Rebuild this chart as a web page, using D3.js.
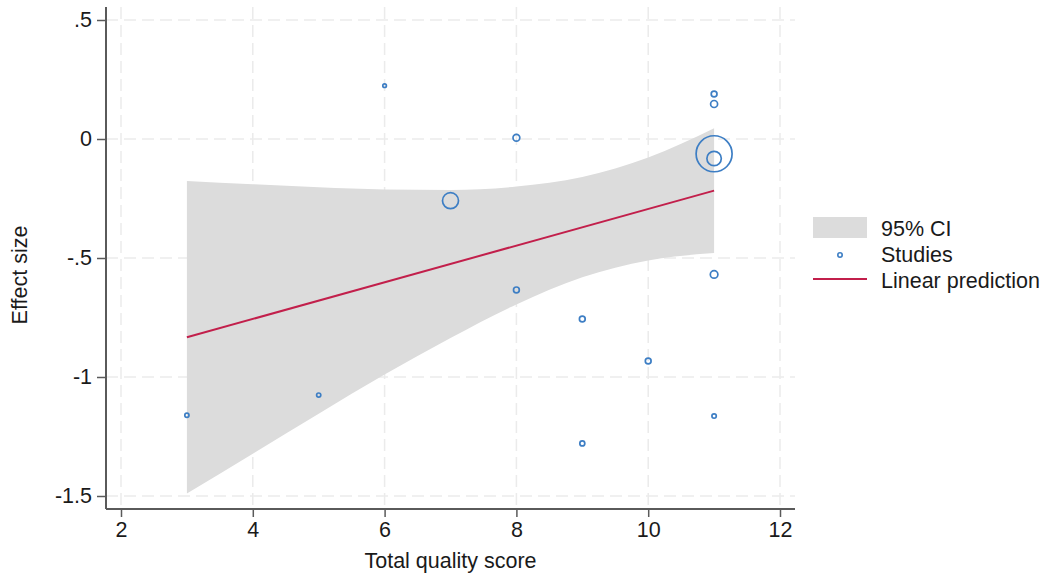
<!DOCTYPE html>
<html>
<head>
<meta charset="utf-8">
<script src="https://cdn.jsdelivr.net/npm/d3@7"></script>
<style>
  html, body { margin: 0; padding: 0; background: #ffffff; }
  svg { display: block; font-family: "Liberation Sans", Arial, Helvetica, sans-serif; }
</style>
</head>
<body>
<svg id="chart" width="1056" height="576"></svg>
<script>
// ---- data ----
const studyScore  = [3, 5, 6, 7, 8, 8, 9, 9, 10, 11, 11, 11, 11, 11, 11];
const studyEffect = [-1.161, -1.076, 0.224, -0.259, 0.005, -0.634, -0.756, -1.279, -0.933, 0.189, 0.147, -0.062, -0.082, -0.569, -1.164];
const studyWeight = [2.1, 2.1, 1.8, 8.0, 3.4, 2.9, 2.9, 2.5, 2.9, 2.9, 3.5, 18.0, 7.2, 3.8, 2.2];

const ciScore = [3, 4, 5, 6, 7, 8, 9, 10, 11];
const ciUpper = [-0.176, -0.190, -0.203, -0.212, -0.214, -0.200, -0.160, -0.078, 0.045];
const ciLower = [-1.489, -1.322, -1.154, -0.990, -0.836, -0.695, -0.581, -0.510, -0.479];

const fitScore  = [3, 11];
const fitEffect = [-0.833, -0.217];

const xTicks = [2, 4, 6, 8, 10, 12];
const yTicks = [0.5, 0, -0.5, -1, -1.5];
const yTickLabels = [".5", "0", "-.5", "-1", "-1.5"];

const legendLabels = ["95% CI", "Studies", "Linear prediction"];

// ---- layout ----
const svg = d3.select("#chart");
const plotLeft = 106, plotRight = 795, plotTop = 7, plotBottom = 509;
const fs = 21.5;

const x = d3.scaleLinear().domain([2, 12]).range([121, 780]);
const y = d3.scaleLinear().domain([0.5, -1.5]).range([20, 496]);
const r = d3.scaleLinear().domain([0, 1]).range([0, 1]);

const colBlue = "#3d7ec4";
const colRed = "#c21f4b";
const colBand = "#dcdcdc";
const colAxis = "#5a5a5a";
const colGrid = "#ebebeb";
const colText = "#1a1a1a";

// grid
const grid = svg.append("g");
grid.selectAll("line.gx").data(xTicks).join("line")
  .attr("x1", d => x(d)).attr("x2", d => x(d))
  .attr("y1", plotTop).attr("y2", plotBottom)
  .attr("stroke", colGrid).attr("stroke-width", 1.5).attr("stroke-dasharray", "12,6");
grid.selectAll("line.gy").data(yTicks).join("line")
  .attr("x1", plotLeft).attr("x2", plotRight)
  .attr("y1", d => y(d)).attr("y2", d => y(d))
  .attr("stroke", colGrid).attr("stroke-width", 1.5).attr("stroke-dasharray", "12,6");

// CI band
const band = d3.area()
  .x((d, i) => x(ciScore[i]))
  .y0((d, i) => y(ciLower[i]))
  .y1((d, i) => y(ciUpper[i]))
  .curve(d3.curveMonotoneX);
svg.append("path").datum(ciScore).attr("d", band).attr("fill", colBand);

// studies
svg.append("g").selectAll("circle").data(studyScore).join("circle")
  .attr("cx", (d, i) => x(studyScore[i]))
  .attr("cy", (d, i) => y(studyEffect[i]))
  .attr("r", (d, i) => r(studyWeight[i]))
  .attr("fill", "none").attr("stroke", colBlue).attr("stroke-width", 1.7);

// linear prediction
const line = d3.line().x((d, i) => x(fitScore[i])).y((d, i) => y(fitEffect[i]));
svg.append("path").datum(fitScore).attr("d", line)
  .attr("fill", "none").attr("stroke", colRed).attr("stroke-width", 2);

// axes
const xAxis = d3.axisBottom(x).tickValues(xTicks).tickSize(8).tickPadding(5).tickFormat(d3.format("d"));
const gx = svg.append("g").attr("transform", `translate(0,${plotBottom})`).call(xAxis);
gx.select(".domain").remove();
gx.selectAll("line").attr("stroke", colAxis).attr("stroke-width", 1.5);
gx.selectAll("text").attr("font-size", fs).attr("fill", colText).attr("font-family", null);

const yAxis = d3.axisLeft(y).tickValues(yTicks).tickSize(9).tickPadding(5)
  .tickFormat((d, i) => yTickLabels[i]);
const gy = svg.append("g").attr("transform", `translate(${plotLeft},0)`).call(yAxis);
gy.select(".domain").remove();
gy.selectAll("line").attr("stroke", colAxis).attr("stroke-width", 1.5);
gy.selectAll("text").attr("font-size", fs).attr("fill", colText).attr("font-family", null);

svg.append("line").attr("x1", plotLeft).attr("x2", plotRight).attr("y1", plotBottom).attr("y2", plotBottom)
  .attr("stroke", colAxis).attr("stroke-width", 2);
svg.append("line").attr("x1", plotLeft).attr("x2", plotLeft).attr("y1", plotTop).attr("y2", plotBottom)
  .attr("stroke", colAxis).attr("stroke-width", 2);

// axis titles
svg.append("text").attr("x", (plotLeft + plotRight) / 2).attr("y", 568)
  .attr("text-anchor", "middle").attr("font-size", fs).attr("fill", colText)
  .text("Total quality score");
svg.append("text").attr("transform", "translate(27,275) rotate(-90)")
  .attr("text-anchor", "middle").attr("font-size", fs).attr("fill", colText)
  .text("Effect size");

// legend
const lg = svg.append("g");
lg.append("rect").attr("x", 813).attr("y", 217).attr("width", 54).attr("height", 21).attr("fill", colBand);
lg.append("circle").attr("cx", 840).attr("cy", 255).attr("r", 2.2)
  .attr("fill", "none").attr("stroke", colBlue).attr("stroke-width", 1.6);
lg.append("line").attr("x1", 813).attr("x2", 867).attr("y1", 279).attr("y2", 279)
  .attr("stroke", colRed).attr("stroke-width", 2);
lg.selectAll("text").data(legendLabels).join("text")
  .attr("x", 881).attr("y", (d, i) => 236 + i * 26)
  .attr("font-size", fs).attr("fill", colText)
  .text(d => d);
</script>
</body>
</html>
